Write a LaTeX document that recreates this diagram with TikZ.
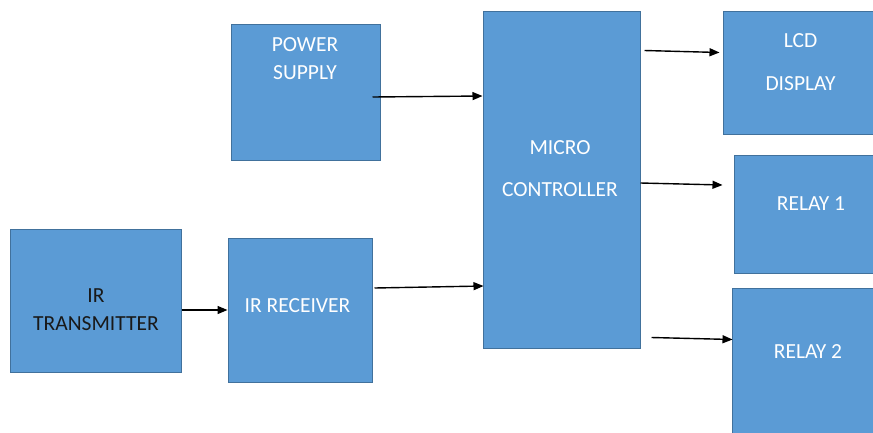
\documentclass[tikz,border=0pt]{standalone}
\usepackage{fontspec}
\setmainfont{Carlito}
\usetikzlibrary{arrows.meta,calc}
\definecolor{boxblue}{HTML}{5B9BD5}
\definecolor{boxline}{HTML}{41719C}
\tikzset{
  block/.style={draw=boxline, fill=boxblue, line width=1pt, inner sep=0pt},
  txt/.style={text=white, align=center, inner sep=0pt, font=\fontsize{21.5}{28}\selectfont},
  arr/.style={-{Triangle[length=10pt,width=8pt]}, line width=1.4pt, black}
}
\begin{document}
\begin{tikzpicture}[x=1pt,y=-1pt]
        \useasboundingbox (0,0) rectangle (873,432);
        \clip (0,0) rectangle (873,432);
        % boxes
        \node[block, minimum width=149pt, minimum height=136pt] (ps) at (305.5,92) {};
        \node[block, minimum width=171pt, minimum height=143pt] (irt) at (95.5,300.5) {};
        \node[block, minimum width=144pt, minimum height=144pt] (irr) at (300,310) {};
        \node[block, minimum width=157pt, minimum height=337pt] (mc) at (561.5,179.5) {};
        \node[block, minimum width=152pt, minimum height=123pt] (lcd) at (799,72.5) {};
        \node[block, minimum width=142pt, minimum height=118pt] (r1) at (805,214) {};
        \node[block, minimum width=144pt, minimum height=145pt] (r2) at (804,360.5) {};
        % labels
        \node[txt] (pstext) at (305,59) {POWER\\SUPPLY};
        \node[txt, text=black!90] (irttext) at (96,309.5) {IR\\TRANSMITTER};
        \node[txt] (irrtext) at (297.5,306) {IR RECEIVER};
        \node[txt] (mctext) at (560,169) {MICRO\\[14pt]CONTROLLER};
        \node[txt] (lcdtext) at (800.5,62.5) {LCD\\[15pt]DISPLAY};
        \node[txt] (r1text) at (811,204) {RELAY 1};
        \node[txt] (r2text) at (808,352) {RELAY 2};
        % arrows
        \draw[arr] ($(ps.east)+(-8,5)$) -- ($(ps.east -| mc.west)+(0,4)$);
        \draw[arr] (irt.east |- irr.west) -- (irr.west);
        \draw[arr] ($(irr.east)+(2,-22)$) -- ($(irr.east -| mc.west)+(1,-24)$);
        \draw[arr] ($(mc.east |- lcd.west)+(4,-22)$) -- ($(lcd.west)+(-3,-20)$);
        \draw[arr] ($(mc.east |- r1.west)+(0,-31)$) -- ($(r1.west)+(-11,-29)$);
        \draw[arr] ($(mc.east |- r2.west)+(11,-23)$) -- ($(r2.west)+(1,-21)$);
\end{tikzpicture}
\end{document}
